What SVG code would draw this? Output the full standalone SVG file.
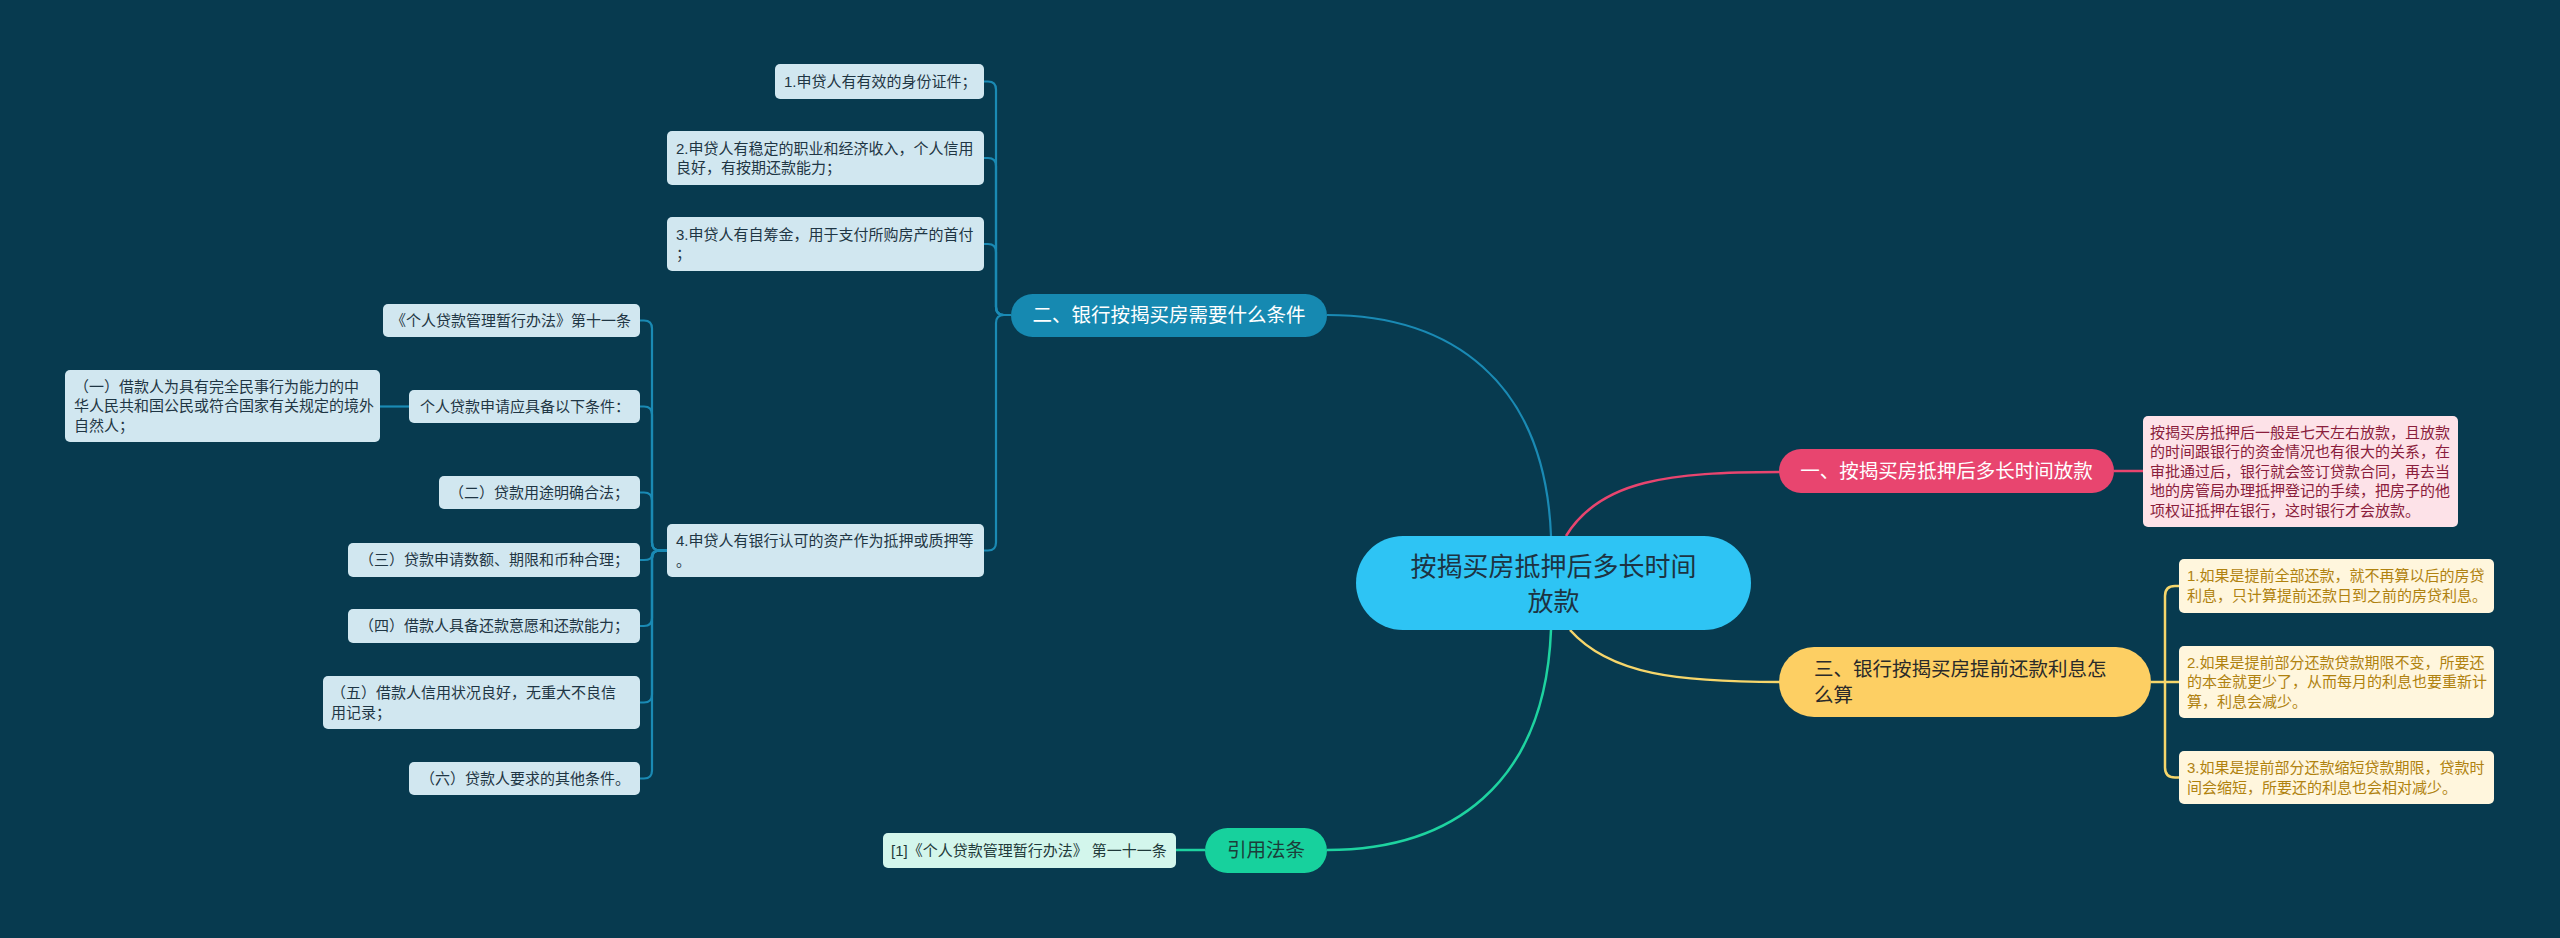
<svg xmlns="http://www.w3.org/2000/svg" width="2560" height="938" viewBox="0 0 2560 938">
<style>
text{font-family:"Liberation Sans","Noto Sans CJK SC",sans-serif;}
.s{font-size:15px;}
.b{font-size:19.5px;}
.c{font-size:26px;fill:#1d3342;}
.bl{fill:#d1e7f0;}
.blt{fill:#1f3644;}
.pk{fill:#fde2e8;}
.pkt{fill:#8a1d3c;}
.yl{fill:#fff6dd;}
.ylt{fill:#b0820f;}
.gr{fill:#d3f6ec;}
.grt{fill:#1f3a3a;}
.cb{fill:none;stroke:#1a8ab4;stroke-width:2.2;}
.cp{fill:none;stroke:#e8456f;stroke-width:2.5;}
.cy{fill:none;stroke:#f6d66b;stroke-width:2.5;}
.cg{fill:none;stroke:#1ed3a0;stroke-width:2.5;}
</style>
<rect x="0" y="0" width="2560" height="938" fill="#073a4f"/>
<g id="connectors">
<path class="cb" d="M1551 536 C1545 380 1450 315 1327 315"/>
<path class="cg" d="M1551 630 C1545 786 1450 850 1327 850"/>
<path class="cp" d="M1566 536 C1600 480 1670 472 1780 472"/>
<path class="cy" d="M1570 630 C1610 675 1680 682 1780 682"/>
<path class="cb" d="M1011 315 L1004 315 Q996 315 996 307 L996 89.5 Q996 81.5 988 81.5 L984 81.5"/>
<path class="cb" d="M1011 315 L1004 315 Q996 315 996 307 L996 166 Q996 158 988 158 L984 158"/>
<path class="cb" d="M1011 315 L1004 315 Q996 315 996 307 L996 252 Q996 244 988 244 L984 244"/>
<path class="cb" d="M1011 315 L1004 315 Q996 315 996 323 L996 542.5 Q996 550.5 988 550.5 L984 550.5"/>
<path class="cb" d="M667 550.5 L660 550.5 Q652 550.5 652 542.5 L652 328.5 Q652 320.5 644 320.5 L640 320.5"/>
<path class="cb" d="M667 550.5 L660 550.5 Q652 550.5 652 542.5 L652 414.5 Q652 406.5 644 406.5 L640 406.5"/>
<path class="cb" d="M667 550.5 L660 550.5 Q652 550.5 652 542.5 L652 500.5 Q652 492.5 644 492.5 L640 492.5"/>
<path class="cb" d="M667 550.5 L660 550.5 Q652 550.5 652 555 Q652 560 644 560 L640 560"/>
<path class="cb" d="M667 550.5 L660 550.5 Q652 550.5 652 558.5 L652 618 Q652 626 644 626 L640 626"/>
<path class="cb" d="M667 550.5 L660 550.5 Q652 550.5 652 558.5 L652 694.5 Q652 702.5 644 702.5 L640 702.5"/>
<path class="cb" d="M667 550.5 L660 550.5 Q652 550.5 652 558.5 L652 770.5 Q652 778.5 644 778.5 L640 778.5"/>
<path class="cb" d="M409 406.5 L380 406.5"/>
<path class="cp" d="M2114 471 L2143 471"/>
<path class="cy" d="M2151 682 L2165 682 M2165 682 L2165 596 Q2165 586 2175 586 L2179 586 M2165 682 L2179 682 M2165 682 L2165 767.5 Q2165 777.5 2175 777.5 L2179 777.5"/>
<path class="cg" d="M1176 850 L1205 850"/>
</g>
<g id="root">
<rect x="1356" y="536" width="395" height="94" rx="47" fill="#2ec4f4"/>
<text class="c" x="1553.5" y="576" text-anchor="middle">按揭买房抵押后多长时间</text>
<text class="c" x="1553.5" y="611" text-anchor="middle">放款</text>
</g>
<g id="branch1">
<rect x="1779" y="449" width="335" height="44" rx="22" fill="#e8456f"/>
<text class="b" x="1946.5" y="478" text-anchor="middle" fill="#ffffff">一、按揭买房抵押后多长时间放款</text>
</g>
<g id="branch1-leaf">
<rect class="pk" x="2143" y="416" width="315" height="111" rx="5"/>
<text class="s pkt" x="2150" y="437.5">按揭买房抵押后一般是七天左右放款，且放款</text>
<text class="s pkt" x="2150" y="457">的时间跟银行的资金情况也有很大的关系，在</text>
<text class="s pkt" x="2150" y="476.5">审批通过后，银行就会签订贷款合同，再去当</text>
<text class="s pkt" x="2150" y="496">地的房管局办理抵押登记的手续，把房子的他</text>
<text class="s pkt" x="2150" y="515.5">项权证抵押在银行，这时银行才会放款。</text>
</g>
<g id="branch3">
<rect x="1779" y="647" width="372" height="70" rx="35" fill="#fdcf63"/>
<text class="b" x="1814" y="676" fill="#2a2a2a">三、银行按揭买房提前还款利息怎</text>
<text class="b" x="1814" y="702" fill="#2a2a2a">么算</text>
</g>
<g id="branch3-leaf1">
<rect class="yl" x="2179" y="559" width="315" height="54" rx="5"/>
<text class="s ylt" x="2187" y="581">1.如果是提前全部还款，就不再算以后的房贷</text>
<text class="s ylt" x="2187" y="601">利息，只计算提前还款日到之前的房贷利息。</text>
</g>
<g id="branch3-leaf2">
<rect class="yl" x="2179" y="646" width="315" height="72" rx="5"/>
<text class="s ylt" x="2187" y="667.5">2.如果是提前部分还款贷款期限不变，所要还</text>
<text class="s ylt" x="2187" y="687">的本金就更少了，从而每月的利息也要重新计</text>
<text class="s ylt" x="2187" y="706.5">算，利息会减少。</text>
</g>
<g id="branch3-leaf3">
<rect class="yl" x="2179" y="751" width="315" height="53" rx="5"/>
<text class="s ylt" x="2187" y="773">3.如果是提前部分还款缩短贷款期限，贷款时</text>
<text class="s ylt" x="2187" y="792.5">间会缩短，所要还的利息也会相对减少。</text>
</g>
<g id="branch2">
<rect x="1011" y="294" width="316" height="43" rx="21.5" fill="#1689b1"/>
<text class="b" x="1169" y="322" text-anchor="middle" fill="#ffffff">二、银行按揭买房需要什么条件</text>
</g>
<g id="b2-c1">
<rect class="bl" x="775" y="64" width="209" height="35" rx="5"/>
<text class="s blt" x="784" y="86.5">1.申贷人有有效的身份证件；</text>
</g>
<g id="b2-c2">
<rect class="bl" x="667" y="131" width="317" height="54" rx="5"/>
<text class="s blt" x="676" y="153.5">2.申贷人有稳定的职业和经济收入，个人信用</text>
<text class="s blt" x="676" y="173">良好，有按期还款能力；</text>
</g>
<g id="b2-c3">
<rect class="bl" x="667" y="217" width="317" height="54" rx="5"/>
<text class="s blt" x="676" y="239.5">3.申贷人有自筹金，用于支付所购房产的首付</text>
<text class="s blt" x="676" y="259">；</text>
</g>
<g id="b2-c4">
<rect class="bl" x="667" y="524" width="317" height="53" rx="5"/>
<text class="s blt" x="676" y="546">4.申贷人有银行认可的资产作为抵押或质押等</text>
<text class="s blt" x="676" y="565.5">。</text>
</g>
<g id="c4-a">
<rect class="bl" x="383" y="304" width="257" height="33" rx="5"/>
<text class="s blt" x="391" y="325.5">《个人贷款管理暂行办法》第十一条</text>
</g>
<g id="c4-b">
<rect class="bl" x="409" y="390" width="231" height="33" rx="5"/>
<text class="s blt" x="420" y="411.5">个人贷款申请应具备以下条件：</text>
</g>
<g id="c4-b-1">
<rect class="bl" x="65" y="370" width="315" height="72" rx="5"/>
<text class="s blt" x="74" y="391.5">（一）借款人为具有完全民事行为能力的中</text>
<text class="s blt" x="74" y="411">华人民共和国公民或符合国家有关规定的境外</text>
<text class="s blt" x="74" y="430.5">自然人；</text>
</g>
<g id="c4-c">
<rect class="bl" x="439" y="476" width="201" height="33" rx="5"/>
<text class="s blt" x="449" y="497.5">（二）贷款用途明确合法；</text>
</g>
<g id="c4-d">
<rect class="bl" x="348" y="543" width="292" height="34" rx="5"/>
<text class="s blt" x="359" y="565">（三）贷款申请数额、期限和币种合理；</text>
</g>
<g id="c4-e">
<rect class="bl" x="348" y="609" width="292" height="34" rx="5"/>
<text class="s blt" x="359" y="631">（四）借款人具备还款意愿和还款能力；</text>
</g>
<g id="c4-f">
<rect class="bl" x="323" y="676" width="317" height="53" rx="5"/>
<text class="s blt" x="331" y="698">（五）借款人信用状况良好，无重大不良信</text>
<text class="s blt" x="331" y="717.5">用记录；</text>
</g>
<g id="c4-g">
<rect class="bl" x="409" y="762" width="231" height="33" rx="5"/>
<text class="s blt" x="420" y="783.5">（六）贷款人要求的其他条件。</text>
</g>
<g id="branch4">
<rect x="1205" y="828" width="122" height="45" rx="22.5" fill="#17d19d"/>
<text class="b" x="1266" y="857" text-anchor="middle" fill="#1c3d3a">引用法条</text>
</g>
<g id="branch4-leaf">
<rect class="gr" x="883" y="833" width="293" height="35" rx="5"/>
<text class="s grt" x="891" y="855.5">[1]《个人贷款管理暂行办法》 第一十一条</text>
</g>
</svg>
